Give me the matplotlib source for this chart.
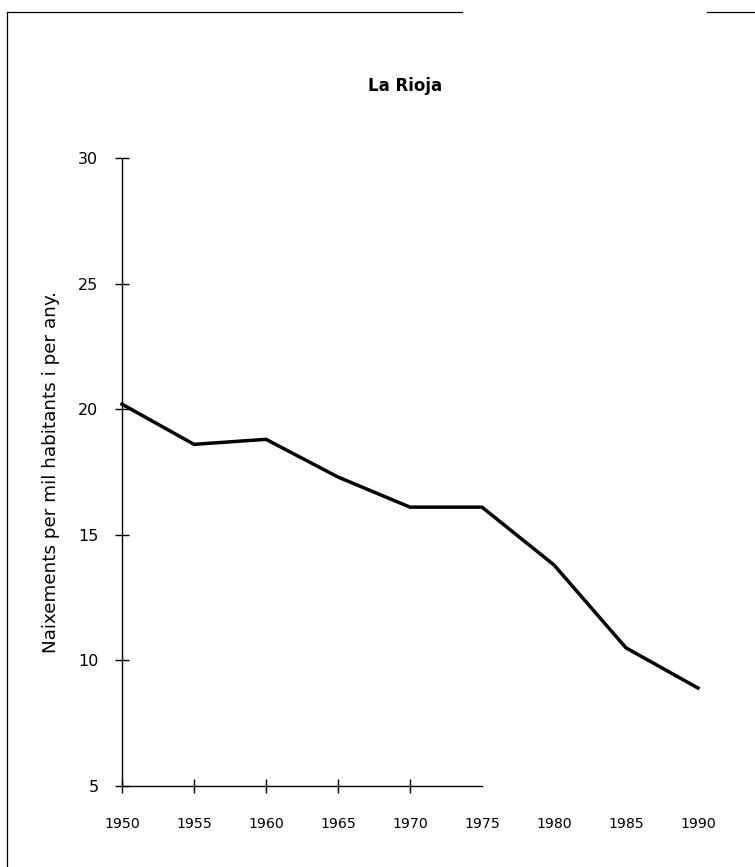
import matplotlib
matplotlib.use("Agg")
import matplotlib.pyplot as plt
from matplotlib.lines import Line2D

years = [1950, 1955, 1960, 1965, 1970, 1975, 1980, 1985, 1990]
births = [20.2, 18.6, 18.8, 17.3, 16.1, 16.1, 13.8, 10.5, 8.9]
yticks = [5, 10, 15, 20, 25, 30]
title = "La Rioja"
ylabel = "Naixements per mil habitants i per any."

plt.rcParams['font.family'] = ['DejaVu Sans']

fig = plt.figure(figsize=(7.55, 8.67), dpi=100)
ax = fig.add_axes([0.1616, 0.0934, 0.7629, 0.7244])

ax.plot(years, births, color='black', lw=2.5, solid_joinstyle='round', clip_on=False)

ax.set_xlim(1950, 1990)
ax.set_ylim(5, 30)
ax.set_xticks(years)
ax.set_xticklabels([str(y) for y in years])
ax.set_yticks(yticks)
ax.set_yticklabels([str(v) for v in yticks])

for s in ['top', 'right']:
    ax.spines[s].set_visible(False)
ax.spines['bottom'].set_bounds(1950, 1975)
ax.spines['left'].set_linewidth(1.0)
ax.spines['bottom'].set_linewidth(1.0)

ax.tick_params(axis='y', direction='inout', length=10, width=1.0, pad=12, labelsize=11.5)
ax.tick_params(axis='x', direction='inout', length=10, width=1.0, pad=17, labelsize=10.2)

for t, yr in zip(ax.xaxis.get_major_ticks(), years):
    if yr > 1970:
        t.tick1line.set_visible(False)

fig.text(405 / 755, 1 - 86 / 867, title, ha='center', va='center',
         fontsize=12, fontweight='bold')
fig.text(51 / 755, 1 - 472 / 867, ylabel, ha='center', va='center',
         rotation=90, fontsize=13.2)

# page border fragments (scanned frame)
fig.add_artist(Line2D([7 / 755, 462 / 755], [1 - 12 / 867, 1 - 12 / 867],
                      transform=fig.transFigure, color='black', lw=0.9))
fig.add_artist(Line2D([707 / 755, 1.0], [1 - 12 / 867, 1 - 12 / 867],
                      transform=fig.transFigure, color='black', lw=0.9))
fig.add_artist(Line2D([7 / 755, 7 / 755], [1 - 12 / 867, 0.0],
                      transform=fig.transFigure, color='black', lw=0.9))

fig.savefig("out.png", dpi=100)
